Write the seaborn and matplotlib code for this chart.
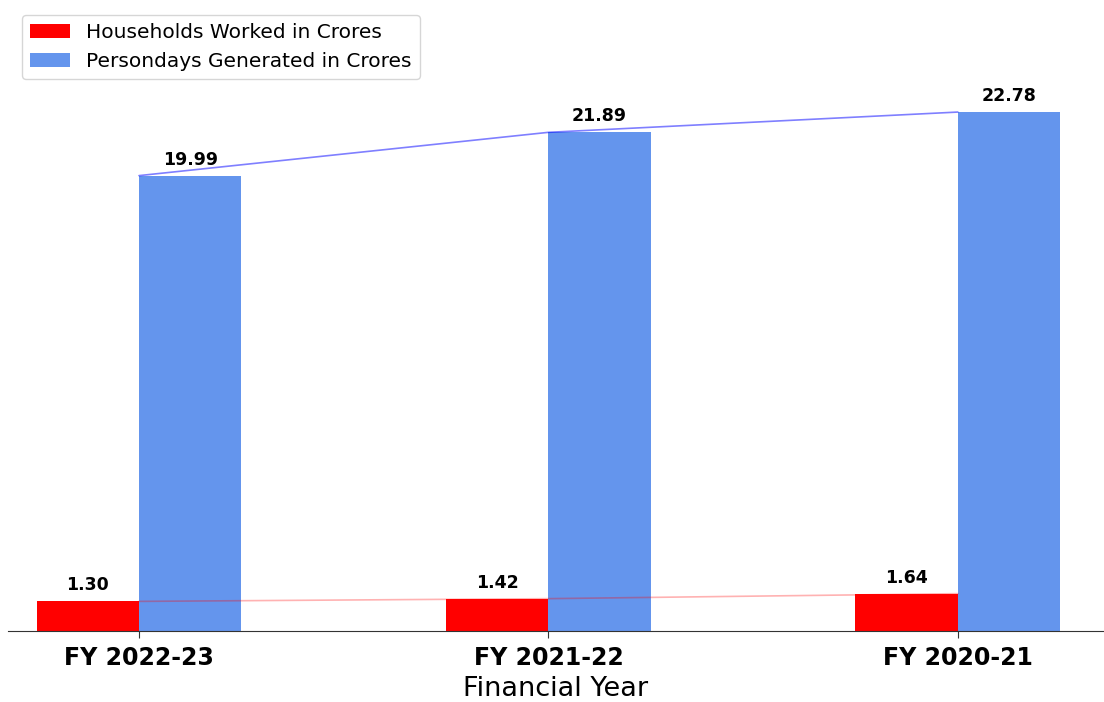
import pandas as pd
import seaborn as sns
import matplotlib.pyplot as plt

################################
#            Data              #
################################

years = ["FY 2022-23", "FY 2021-22", "FY 2020-21"]
households = [1.30, 1.42, 1.64]
persondays = [19.99, 21.89, 22.78]
series_names = ["Households Worked in Crores", "Persondays Generated in Crores"]
colors = ["#ff0000", "#6495ed"]

df = pd.DataFrame({
    "Financial Year": years * 2,
    "Value": households + persondays,
    "Series": [series_names[0]] * 3 + [series_names[1]] * 3,
})

################################
#            Plot              #
################################

sns.set_style("white")
plt.rcParams["text.color"] = "black"
plt.rcParams["xtick.color"] = "black"
plt.rcParams["axes.labelcolor"] = "black"

fig = plt.figure(figsize=(11.04, 7.02), dpi=100)
ax = fig.add_axes([8 / 1104, 71 / 702, 1096 / 1104, 621 / 702])

sns.barplot(ax=ax, data=df, x="Financial Year", y="Value", hue="Series",
            palette=colors, width=0.5, saturation=1, linewidth=0, legend=True)

# trend lines over the bars
ax.plot(range(len(years)), households, color="red", alpha=0.3, lw=1.2)
ax.plot(range(len(years)), persondays, color="blue", alpha=0.5, lw=1.2)

for container in ax.containers:
    ax.bar_label(container, fmt="%.2f", padding=5, fontsize=12.5, fontweight="bold")

ax.set_xlim(-0.32, 2.357)
ax.set_ylim(0, 27.26)
ax.set_ylabel("")
ax.set_yticks([])
ax.set_xlabel("Financial Year", fontsize=19.5, labelpad=4)
ax.tick_params(axis="x", labelsize=17, length=5, pad=6, bottom=True, color="#333333")
for lab in ax.get_xticklabels():
    lab.set_fontweight("bold")
for s in ["top", "right", "left"]:
    ax.spines[s].set_visible(False)
ax.spines["bottom"].set_color("#333333")

ax.legend(loc="upper left", bbox_to_anchor=(14 / 1096, 1 - 5 / 621),
          fontsize=14.5, borderaxespad=0, title=None)

fig.savefig("out.png", dpi=100)
